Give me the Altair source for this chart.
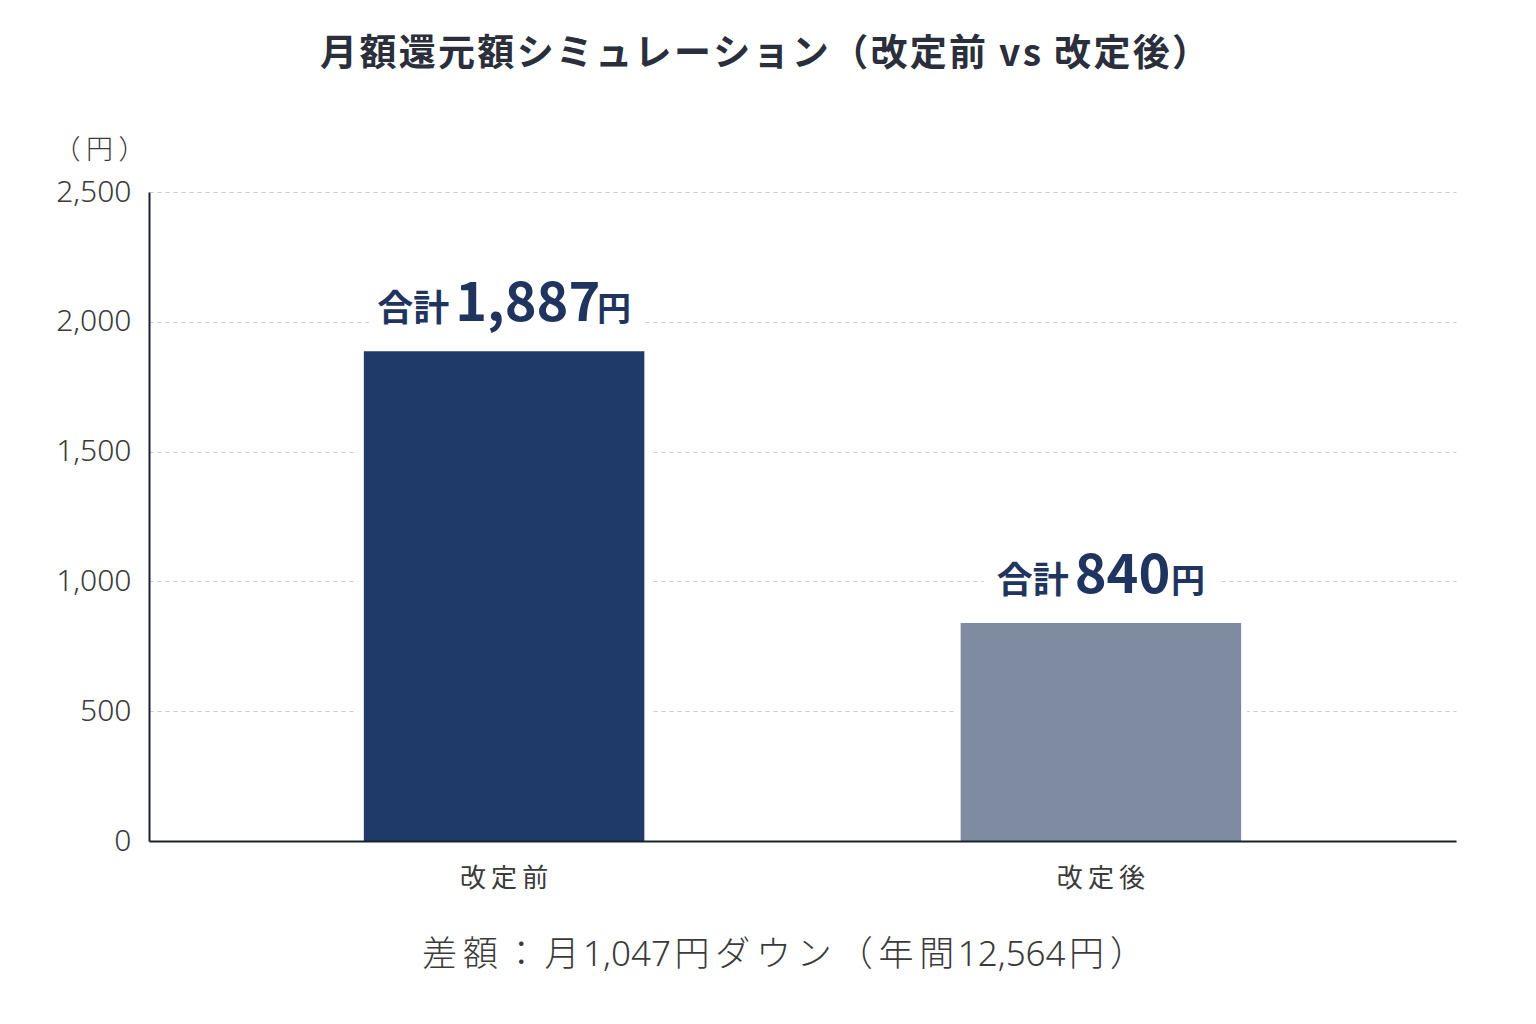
import altair as alt
import pandas as pd

FONT = "Noto Sans CJK JP"
MIXED = "'Noto Sans', 'Noto Sans CJK JP'"

plans = ["改定前", "改定後"]
totals = [1887, 840]
bar_colors = ["#1f3a68", "#7f8ba0"]
y_ticks = [0, 500, 1000, 1500, 2000, 2500]
title_text = "月額還元額シミュレーション（改定前 vs 改定後）"
note_text = "差額：月1,047円ダウン（年間12,564円）"
unit_text = "（円）"


def spaced(s, gap="\u2009", edge="\u200a", latin=""):
    # the reference sets its Japanese text with a little letter spacing
    out = s[0]
    for a, b in zip(s, s[1:]):
        if a.isascii() and b.isascii():
            out += latin
        elif a.isascii() or b.isascii():
            out += edge
        else:
            out += gap
        out += b
    return out


df = pd.DataFrame({"plan": plans, "total": totals})

x_enc = alt.X("plan:N", sort=plans, title=spaced(note_text),
              scale=alt.Scale(paddingInner=0.53, paddingOuter=0.36),
              axis=alt.Axis(labelAngle=0, labelFontSize=26, labelColor="#3a3a3a",
                            labelFont=FONT, labelPadding=24, ticks=False,
                            labelExpr="join(split(datum.label, ''), '\u2009')",
                            domainColor="#1c2130", domainWidth=2, zindex=1,
                            titleFontSize=35, titleFont=MIXED, titleFontWeight=300,
                            titleColor="#3a3a3a", titleX=634, titleY=113,
                            titleBaseline="middle", titleAlign="center"))
y_enc = alt.Y("total:Q", scale=alt.Scale(domain=[0, 2500], nice=False),
              axis=alt.Axis(values=y_ticks, format=",d", title=spaced(unit_text),
                            titleAngle=0, titleX=-50, titleY=-42, titleAlign="center",
                            titleBaseline="middle", titleFontSize=27, titleFont=FONT,
                            titleFontWeight=300, titleColor="#3a3a3a",
                            labelFontSize=30, labelFontWeight=300, labelColor="#3a3a3a",
                            labelFont=MIXED, labelPadding=18, ticks=False,
                            domainColor="#1c2130", domainWidth=2,
                            gridColor="#cccccc", gridDash=[4, 4], gridWidth=1))

base = alt.Chart(df)

halo_bars = base.mark_bar(color="white", stroke="white", strokeWidth=12).encode(x=x_enc, y=y_enc)
bars = base.mark_bar().encode(
    x=alt.X("plan:N", sort=plans),
    y="total:Q",
    color=alt.Color("plan:N", scale=alt.Scale(domain=plans, range=bar_colors), legend=None),
)

# label pieces: "合計", big number, "円"
pre, big, post = 36, 54, 34
label_color = "#1f3560"
text_layers = []
halo_layers = []
for plan, v in zip(plans, totals):
    s = f"{v:,}"
    num_w = sum(0.27 * big if ch == "," else 0.57 * big for ch in s)
    total_w = 2 * pre + 6 + num_w + 4 + post
    start = -total_w / 2
    pieces = [
        ("合計", pre, start),
        (s, big, start + 2 * pre + 6),
        ("円", post, start + 2 * pre + 6 + num_w + 4),
    ]
    sub = base.transform_filter(alt.datum.plan == plan)
    for txt, size, dx in pieces:
        enc = dict(x=alt.X("plan:N", sort=plans), y="total:Q", text=alt.value(txt))
        halo_layers.append(sub.mark_text(
            font=FONT, fontSize=size, fontWeight="bold", align="left",
            baseline="alphabetic", dx=dx, dy=-30, fill="white",
            stroke="white", strokeWidth=30, strokeJoin="round").encode(**enc))
        text_layers.append(sub.mark_text(
            font=FONT, fontSize=size, fontWeight="bold", align="left",
            baseline="alphabetic", dx=dx, dy=-30, color=label_color).encode(**enc))

chart = alt.layer(halo_bars, bars, *halo_layers, *text_layers).properties(
    width=1307,
    height=649,
    padding={"left": 45, "top": 28, "right": 72, "bottom": 20},
    title=alt.TitleParams(spaced(title_text, "\u200a", "\u200a", "\u200a"),
                          font=FONT, fontSize=37, fontWeight="bold", dx=10,
                          color="#2b2f3b", offset=62, anchor="middle", frame="bounds"),
).configure(background="white").configure_view(stroke=None)

chart.save("out.html", embed_options={"renderer": "svg", "actions": False})
